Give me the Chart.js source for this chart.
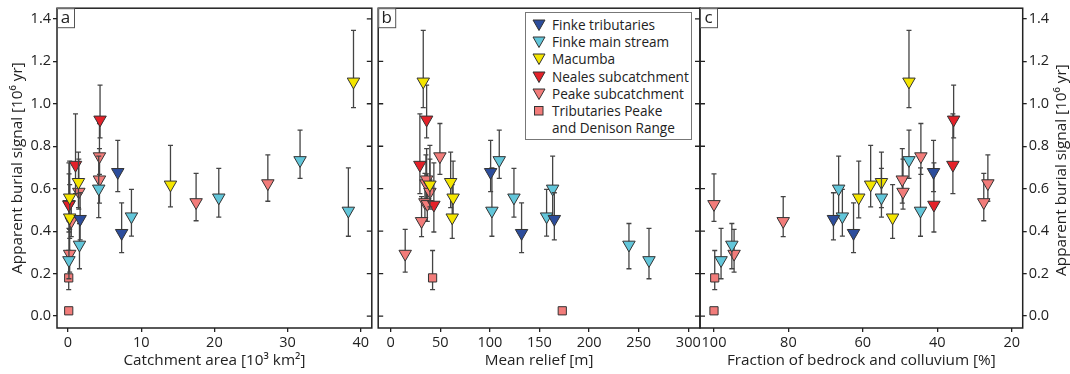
<!DOCTYPE html>
<html>
<head>
<meta charset="utf-8">
<script src="https://cdn.jsdelivr.net/npm/chart.js@4.4.0/dist/chart.umd.min.js"></script>
<style>
  body { margin: 0; background: #fff; }
  #wrap { position: relative; width: 1070px; height: 374px; overflow: hidden; font-family: 'Open Sans', sans-serif; }
  .pane { position: absolute; top: 0; }
  #legend { position: absolute; left: 525px; top: 12px; width: 167px; height: 128px; border: 1px solid #777; background: #fff; box-sizing: border-box; padding-top: 3px; font-size: 13.6px; color: #222; }
  .row { position: relative; padding-left: 26px; line-height: 17.2px; white-space: nowrap; }
  .row.wrap { white-space: normal; width: 130px; }
  .row svg { position: absolute; left: 6px; top: 3px; }
</style>
</head>
<body>
<div id="wrap">
  <canvas id="chartA" class="pane" style="left:0px" width="380" height="374"></canvas>
  <canvas id="chartB" class="pane" style="left:370px" width="340" height="374"></canvas>
  <canvas id="chartC" class="pane" style="left:690px" width="380" height="374"></canvas>
  <div id="legend"></div>
</div>
<script>
// ---- data (ages in 10^6 yr) ----
const seriesNames = ['Finke tributaries', 'Finke main stream', 'Macumba', 'Neales subcatchment',
  'Peake subcatchment', 'Tributaries Peake and Denison Range'];

const finkeTribAge = [0.678, 0.391, 0.457];
const finkeTribLo = [0.586, 0.299, 0.359];
const finkeTribHi = [0.828, 0.533, 0.581];
const finkeTribArea = [6.8, 7.33, 1.66];
const finkeTribRelief = [100.8, 132, 165];
const finkeTribFraction = [41.0, 62.5, 67.9];

const finkeMainAge = [0.496, 0.734, 0.558, 0.469, 0.600, 0.336, 0.263];
const finkeMainLo = [0.376, 0.649, 0.466, 0.377, 0.464, 0.223, 0.176];
const finkeMainHi = [0.698, 0.876, 0.696, 0.597, 0.753, 0.436, 0.413];
const finkeMainArea = [38.3, 31.7, 20.6, 8.67, 4.2, 1.57, 0.13];
const finkeMainRelief = [102.1, 109.5, 124.3, 157.2, 163.3, 240.2, 260.4];
const finkeMainFraction = [44.5, 47.6, 55.0, 65.5, 66.5, 95.2, 98.1];

const macumbaAge = [1.104, 0.619, 0.631, 0.558, 0.464];
const macumbaLo = [0.982, 0.514, 0.511, 0.463, 0.366];
const macumbaHi = [1.346, 0.804, 0.772, 0.730, 0.619];
const macumbaArea = [39.0, 14.0, 1.43, 0.23, 0.23];
const macumbaRelief = [32.9, 39.6, 60.5, 63, 62.1];
const macumbaFraction = [47.6, 57.9, 55.0, 61.1, 52.0];

const nealesAge = [0.925, 0.712, 0.524];
const nealesLo = [0.839, 0.577, 0.396];
const nealesHi = [1.088, 0.952, 0.722];
const nealesArea = [4.38, 1.03, 0.13];
const nealesRelief = [36.3, 29.5, 43.6];
const nealesFraction = [35.6, 35.8, 40.9];

const peakeAge = [0.625, 0.536, 0.752, 0.643, 0.585, 0.447, 0.293, 0.527];
const peakeLo = [0.541, 0.449, 0.667, 0.532, 0.504, 0.374, 0.207, 0.446];
const peakeHi = [0.759, 0.672, 0.907, 0.789, 0.739, 0.563, 0.408, 0.670];
const peakeArea = [27.3, 17.5, 4.3, 4.3, 1.48, 0.45, 0.23, 0.15];
const peakeRelief = [35.6, 34.6, 49.7, 36.3, 39.6, 31.2, 14.7, 37];
const peakeFraction = [26.4, 27.5, 44.4, 49.4, 49.2, 81.4, 94.6, 100];

const tribPeakeAge = [0.18, 0.025];
const tribPeakeLo = [0.125, null];
const tribPeakeHi = [0.309, null];
const tribPeakeArea = [0.1, 0.1];
const tribPeakeRelief = [42.3, 173];
const tribPeakeFraction = [99.8, 100];

const ageTicks = [0, 0.2, 0.4, 0.6, 0.8, 1.0, 1.2, 1.4];
const areaTicks = [0, 10, 20, 30, 40];
const reliefTicks = [0, 50, 100, 150, 200, 250, 300];
const fractionTicks = [100, 80, 60, 40, 20];

const series = [
  { name: seriesNames[0], color: '#2c4d9c', shape: 'triangle', age: finkeTribAge, lo: finkeTribLo, hi: finkeTribHi, area: finkeTribArea, relief: finkeTribRelief, fraction: finkeTribFraction },
  { name: seriesNames[1], color: '#62c6da', shape: 'triangle', age: finkeMainAge, lo: finkeMainLo, hi: finkeMainHi, area: finkeMainArea, relief: finkeMainRelief, fraction: finkeMainFraction },
  { name: seriesNames[2], color: '#f4e500', shape: 'triangle', age: macumbaAge, lo: macumbaLo, hi: macumbaHi, area: macumbaArea, relief: macumbaRelief, fraction: macumbaFraction },
  { name: seriesNames[3], color: '#e42129', shape: 'triangle', age: nealesAge, lo: nealesLo, hi: nealesHi, area: nealesArea, relief: nealesRelief, fraction: nealesFraction },
  { name: seriesNames[4], color: '#f27c7a', shape: 'triangle', age: peakeAge, lo: peakeLo, hi: peakeHi, area: peakeArea, relief: peakeRelief, fraction: peakeFraction },
  { name: seriesNames[5], color: '#f27c7a', shape: 'rect', age: tribPeakeAge, lo: tribPeakeLo, hi: tribPeakeHi, area: tribPeakeArea, relief: tribPeakeRelief, fraction: tribPeakeFraction },
];

const FONT = "'Open Sans', sans-serif";
const INK = '#222';
const yTitle = 'Apparent burial signal [10\u2076 yr]';

// error bars are drawn just before each dataset's markers; frame, inner ticks and panel letter after
const panelPlugin = {
  id: 'panel',
  beforeDatasetDraw(chart, args) {
    const ds = chart.data.datasets[args.index];
    const xs = chart.scales.x, ys = chart.scales.y;
    const ctx = chart.ctx;
    ctx.save();
    ctx.strokeStyle = '#444';
    ctx.lineWidth = 1.3;
    ds.data.forEach((p, i) => {
      if (ds.errLo[i] == null) return;
      const x = xs.getPixelForValue(p.x);
      const y0 = ys.getPixelForValue(ds.errLo[i]);
      const y1 = ys.getPixelForValue(ds.errHi[i]);
      ctx.beginPath();
      ctx.moveTo(x, y0); ctx.lineTo(x, y1);
      ctx.moveTo(x - 2.5, y0); ctx.lineTo(x + 2.5, y0);
      ctx.moveTo(x - 2.5, y1); ctx.lineTo(x + 2.5, y1);
      ctx.stroke();
    });
    ctx.restore();
  },
  afterDraw(chart, args, opts) {
    const { ctx, chartArea: a } = chart;
    const ys = chart.scales.y;
    ctx.save();
    ctx.strokeStyle = INK;
    ctx.lineWidth = 1.5;
    ctx.strokeRect(a.left, a.top, a.right - a.left, a.bottom - a.top);
    ctx.lineWidth = 1.3;
    ctx.beginPath();
    ageTicks.forEach(v => {
      const y = ys.getPixelForValue(v);
      if (opts.innerLeft) { ctx.moveTo(a.left, y); ctx.lineTo(a.left + 5, y); }
      if (opts.innerRight) { ctx.moveTo(a.right - 5, y); ctx.lineTo(a.right, y); }
    });
    ctx.stroke();
    // panel letter box
    ctx.lineWidth = 1;
    ctx.strokeStyle = '#555';
    ctx.fillStyle = '#fff';
    ctx.fillRect(a.left, a.top, 17, 19);
    ctx.strokeRect(a.left + 0.5, a.top + 0.5, 17, 19);
    ctx.fillStyle = INK;
    ctx.font = '17px ' + FONT;
    ctx.textAlign = 'center';
    ctx.textBaseline = 'middle';
    ctx.fillText(opts.letter, a.left + 8.5, a.top + 10);
    if (opts.rightTitle) {
      ctx.translate(chart.width - 8, (a.top + a.bottom) / 2 + 2);
      ctx.rotate(-Math.PI / 2);
      ctx.font = '15.3px ' + FONT;
      ctx.fillText(yTitle, 0, 0);
    }
    ctx.restore();
  }
};

function buildDatasets(key) {
  return series.map(s => ({
    label: s.name,
    data: s[key].map((v, i) => ({ x: v, y: s.age[i] })),
    errLo: s.lo,
    errHi: s.hi,
    pointStyle: s.shape,
    rotation: s.shape === 'triangle' ? 180 : 0,
    pointRadius: s.shape === 'triangle' ? 7.2 : 5.8,
    backgroundColor: s.color,
    borderColor: '#333',
    borderWidth: 1,
    showLine: false
  }));
}

function axisCommon(ticksArr) {
  return {
    type: 'linear',
    grid: { drawOnChartArea: false, drawTicks: true, tickLength: 4, color: INK, lineWidth: 1.3 },
    border: { display: false },
    afterBuildTicks: s => { s.ticks = ticksArr.map(v => ({ value: v })); },
    ticks: { color: INK, font: { family: FONT, size: 14.5 }, padding: 2, maxRotation: 0, autoSkip: false }
  };
}

function xAxis(ticksArr, min, max, title, reverse) {
  const ax = axisCommon(ticksArr);
  ax.min = min; ax.max = max; ax.reverse = !!reverse;
  ax.ticks.padding = 2;
  ax.title = { display: true, text: title, color: INK, font: { family: FONT, size: 15.3 }, padding: { top: 0, bottom: 4 } };
  ax.afterFit = s => { s.height = 46; s.paddingLeft = 0; s.paddingRight = 0; };
  return ax;
}

function yAxis(position, show, width) {
  const ax = axisCommon(ageTicks);
  ax.min = -0.056; ax.max = 1.45;
  ax.position = position;
  ax.display = show;
  ax.ticks.callback = v => v.toFixed(1);
  ax.afterFit = s => { s.width = width; s.paddingTop = 0; s.paddingBottom = 0; };
  return ax;
}

function makeChart(id, key, xCfg, yCfg, padding, panelOpts) {
  return new Chart(document.getElementById(id), {
    type: 'scatter',
    data: { datasets: buildDatasets(key) },
    options: {
      responsive: false,
      animation: false,
      layout: { padding },
      scales: { x: xCfg, y: yCfg },
      plugins: { legend: { display: false }, tooltip: { enabled: false }, panel: panelOpts }
    },
    plugins: [panelPlugin]
  });
}

const yA = yAxis('left', true, 57);
yA.title = { display: true, text: yTitle, color: INK, font: { family: FONT, size: 15.3 }, padding: { top: 8.5, bottom: 0 } };
makeChart('chartA', 'area', xAxis(areaTicks, -1.5, 41.5, 'Catchment area [10\u00b3 km\u00b2]'), yA,
  { top: 6, right: 2, left: 0, bottom: 0 }, { letter: 'a', innerRight: true });

makeChart('chartB', 'relief', xAxis(reliefTicks, -12.5, 311.8, 'Mean relief [m]'), yAxis('left', false, 0),
  { top: 6, right: 10, left: 8, bottom: 0 }, { letter: 'b', innerLeft: true, innerRight: true });

makeChart('chartC', 'fraction', xAxis(fractionTicks, 17.04, 103.76, 'Fraction of bedrock and colluvium [%]', true), yAxis('right', true, 47.3),
  { top: 6, right: 0, left: 10, bottom: 0 }, { letter: 'c', innerLeft: true, rightTitle: true });

// legend
const legend = document.getElementById('legend');
series.forEach(s => {
  const row = document.createElement('div');
  row.className = s.shape === 'rect' ? 'row wrap' : 'row';
  const mark = s.shape === 'triangle'
    ? `<svg width="14" height="12"><polygon points="1,1 13,1 7,11.5" fill="${s.color}" stroke="#333" stroke-width="1"/></svg>`
    : `<svg width="14" height="12"><rect x="2.5" y="1.5" width="8.5" height="8.5" fill="${s.color}" stroke="#333" stroke-width="1"/></svg>`;
  row.innerHTML = mark + '<span>' + s.name + '</span>';
  legend.appendChild(row);
});
</script>
</body>
</html>
